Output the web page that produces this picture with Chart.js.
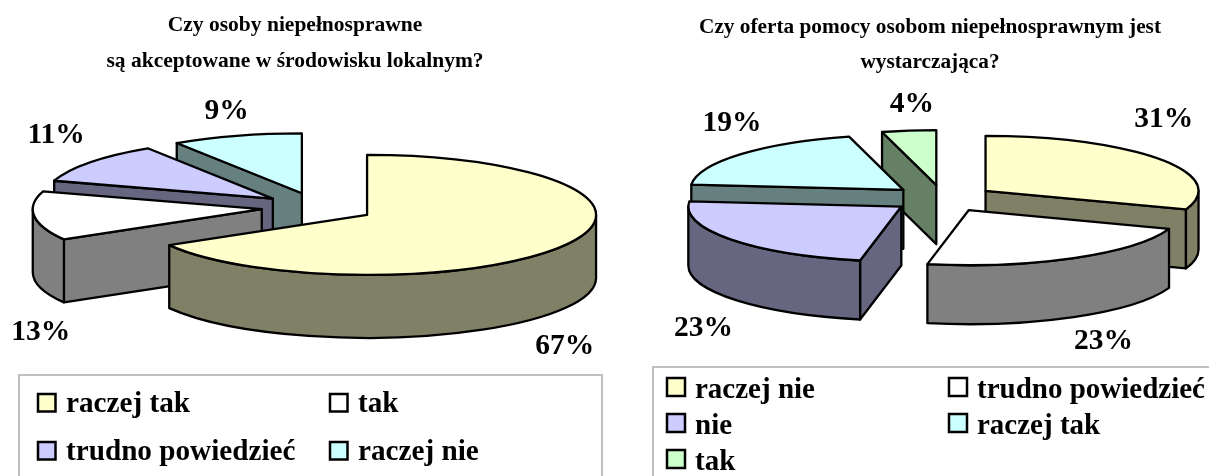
<!DOCTYPE html>
<html><head><meta charset="utf-8">
<style>
html,body{margin:0;padding:0;background:#fff;overflow:hidden;width:1209px;height:476px}
canvas{position:absolute;top:0}
#a{left:-15px}
#b{left:651px}
</style>
<script src="https://cdn.jsdelivr.net/npm/chart.js@4"></script>
</head><body>
<canvas id="a" width="620" height="476"></canvas>
<canvas id="b" width="558" height="476"></canvas>
<script>
const FONT = '"Liberation Serif","Times New Roman",serif';

const titleA = ['Czy osoby niepełnosprawne', 'są akceptowane w środowisku lokalnym?'];
const categoriesA = ['raczej tak', 'tak', 'trudno powiedzieć', 'raczej nie'];
const valuesA = [66.6, 13.2, 11.0, 9.2];
const topColorsA = ['#FFFFCC', '#FFFFFF', '#CCCCFF', '#CCFFFF'];
const wallColorsA = ['#808066', '#808080', '#666680', '#668080'];

const titleB = ['Czy oferta pomocy osobom niepełnosprawnym jest', 'wystarczająca?'];
const categoriesB = ['raczej nie', 'trudno powiedzieć', 'nie', 'raczej tak', 'tak'];
const valuesB = [30.5, 22.6, 23.4, 19.4, 4.1];
const topColorsB = ['#FFFFCC', '#FFFFFF', '#CCCCFF', '#CCFFFF', '#CCFFCC'];
const wallColorsB = ['#808066', '#808080', '#666680', '#668080', '#668066'];

const tilt3d = {
  id: 'tilt3d',
  geometry(arc, o) {
    const mid = (arc.startAngle + arc.endAngle) / 2;
    return { s: arc.startAngle, e: arc.endAngle, mid, R: arc.outerRadius,
      ax: o.cx + Math.cos(mid) * o.explode, ay: o.cy + Math.sin(mid) * o.explode * o.k };
  },
  beforeDatasetsDraw(chart, args, o) {
    const ctx = chart.ctx;
    const arcs = chart.getDatasetMeta(0).data;
    const geos = arcs.map((a, i) => ({ i, g: this.geometry(a, o) }));
    geos.sort((p, q) => p.g.ay - q.g.ay);
    ctx.save();
    ctx.strokeStyle = '#000'; ctx.lineWidth = o.line; ctx.lineJoin = 'round';
    for (const { i, g } of geos) {
      ctx.fillStyle = o.walls[i];
      const ry = g.R * o.k, h = o.h;
      const radial = (t) => {
        const ox = g.ax + Math.cos(t) * g.R, oy = g.ay + Math.sin(t) * ry;
        ctx.beginPath(); ctx.moveTo(g.ax, g.ay); ctx.lineTo(ox, oy);
        ctx.lineTo(ox, oy + h); ctx.lineTo(g.ax, g.ay + h); ctx.closePath();
        ctx.fill(); ctx.stroke();
      };
      if (Math.cos(g.s) < -1e-6) radial(g.s);
      if (Math.cos(g.e) > 1e-6) radial(g.e);
      const a = Math.max(g.s, 0), b = Math.min(g.e, Math.PI);
      if (b > a) {
        ctx.beginPath();
        ctx.ellipse(g.ax, g.ay, g.R, ry, 0, a, b);
        ctx.ellipse(g.ax, g.ay + h, g.R, ry, 0, b, a, true);
        ctx.closePath(); ctx.fill(); ctx.stroke();
      }
    }
    ctx.restore();
    // Tops: the library draws each arc at its exploded place on a tilted plane.
    arcs.forEach((a) => {
      const mid = (a.startAngle + a.endAngle) / 2;
      a.x = o.cx + Math.cos(mid) * o.explode;
      a.y = o.cy + Math.sin(mid) * o.explode;
    });
    ctx.save();
    ctx.translate(0, o.cy); ctx.scale(1, o.k); ctx.translate(0, -o.cy);
  },
  afterDatasetsDraw(chart, args, o) {
    const ctx = chart.ctx;
    ctx.restore();
    const arcs = chart.getDatasetMeta(0).data;
    const vals = chart.data.datasets[0].data;
    ctx.save();
    ctx.strokeStyle = '#000'; ctx.lineWidth = o.line; ctx.lineJoin = 'round';
    arcs.forEach((a) => {
      const g = this.geometry(a, o);
      ctx.beginPath(); ctx.moveTo(g.ax, g.ay);
      ctx.ellipse(g.ax, g.ay, g.R, g.R * o.k, 0, g.s, g.e);
      ctx.closePath(); ctx.stroke();
    });
    ctx.fillStyle = '#000';
    ctx.font = 'bold ' + o.labelSize + 'px ' + FONT;
    ctx.textAlign = 'center'; ctx.textBaseline = 'middle';
    arcs.forEach((a, i) => {
      const g = this.geometry(a, o);
      const x = g.ax + Math.cos(g.mid) * g.R + o.nudge[i][0];
      const y = g.ay + Math.sin(g.mid) * g.R * o.k + o.nudge[i][1];
      ctx.fillText(Math.round(vals[i]) + '%', x, y);
    });
    ctx.restore();
    // legend panel
    const L = o.legend;
    ctx.save();
    ctx.strokeStyle = '#C0C0C0'; ctx.lineWidth = 2;
    ctx.beginPath();
    ctx.moveTo(L.left, chart.height + 4); ctx.lineTo(L.left, L.top);
    ctx.lineTo(L.right, L.top); ctx.lineTo(L.right, chart.height + 4);
    ctx.stroke();
    ctx.font = 'bold ' + L.size + 'px ' + FONT;
    ctx.textAlign = 'left'; ctx.textBaseline = 'alphabetic';
    chart.data.labels.forEach((t, i) => {
      const col = i % 2, row = Math.floor(i / 2);
      const x = L.cols[col], y = L.firstRow + row * L.rowGap;
      ctx.fillStyle = chart.data.datasets[0].backgroundColor[i];
      ctx.strokeStyle = '#000'; ctx.lineWidth = 2.5;
      ctx.fillRect(x, y, L.box, L.box); ctx.strokeRect(x, y, L.box, L.box);
      ctx.fillStyle = '#000';
      ctx.fillText(t, x + L.textGap, y + L.baseline);
    });
    ctx.restore();
  }
};

function makePie(id, title, categories, values, colors, walls, o, titleOpts) {
  return new Chart(document.getElementById(id), {
    type: 'pie',
    data: { labels: categories, datasets: [{
      data: values, backgroundColor: colors, borderWidth: 0,
      radius: o.R, clip: false
    }]},
    options: {
      responsive: false, animation: false,
      plugins: {
        legend: { display: false }, tooltip: { enabled: false },
        title: { display: true, text: title, color: '#000', align: 'center',
          font: { family: FONT, weight: 'bold', size: titleOpts.size, lineHeight: titleOpts.lh },
          padding: { top: titleOpts.top, bottom: 0 } },
        tilt3d: Object.assign({ walls }, o)
      }
    },
    plugins: [tilt3d]
  });
}

makePie('a', titleA, categoriesA, valuesA, topColorsA, wallColorsA, {
  cx: 333, cy: 207.5, R: 229, k: 60 / 229, h: 63, explode: 56.6, line: 2.3, labelSize: 29.5,
  nudge: [[-1, 101.5], [6.5, 116], [-34, -27], [-10, -24]],
  legend: { left: 34, right: 617, top: 375, cols: [53, 345], firstRow: 394, rowGap: 48,
            box: 17.5, textGap: 28, baseline: 18, size: 29.2 }
}, { size: 21.5, lh: 1.67, top: 8 });

makePie('b', titleB, categoriesB, valuesB, topColorsB, wallColorsB, {
  cx: 292, cy: 198.5, R: 213, k: 55 / 213, h: 59, explode: 52, line: 2.3, labelSize: 29.5,
  nudge: [[4, -40], [30, 83], [-27, 89], [-9, -31], [3, -26]],
  legend: { left: 2, right: 600, top: 367, cols: [16, 298], firstRow: 378, rowGap: 36,
            box: 18, textGap: 28, baseline: 20, size: 29 }
}, { size: 21.3, lh: 1.64, top: 10 });
</script>
</body></html>
